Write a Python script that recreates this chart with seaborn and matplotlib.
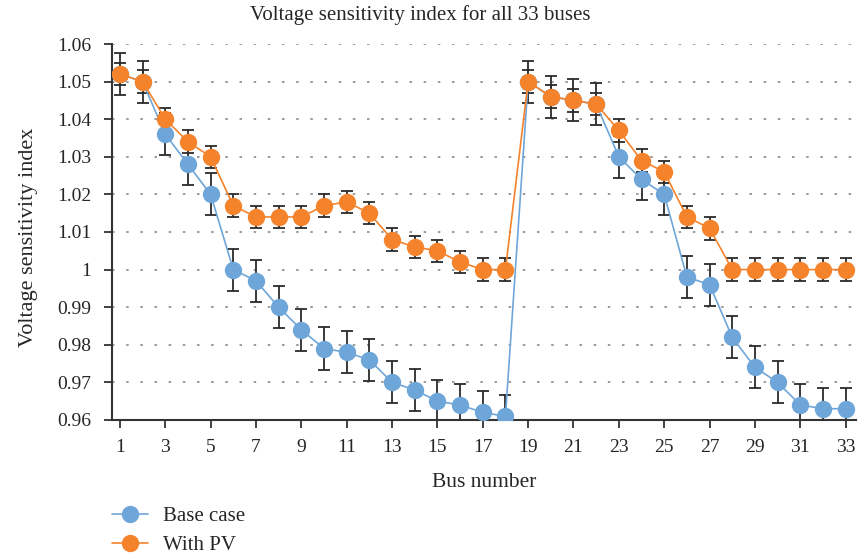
import numpy as np
import pandas as pd
import seaborn as sns
import matplotlib.pyplot as plt
from matplotlib.lines import Line2D

buses = list(range(1, 34))
base_case = [1.052, 1.050, 1.036, 1.028, 1.020, 1.000, 0.997, 0.990, 0.984, 0.979,
             0.978, 0.976, 0.970, 0.968, 0.965, 0.964, 0.962, 0.961, 1.050, 1.046,
             1.045, 1.044, 1.030, 1.024, 1.020, 0.998, 0.996, 0.982, 0.974, 0.970,
             0.964, 0.963, 0.963]
with_pv = [1.052, 1.050, 1.040, 1.034, 1.030, 1.017, 1.014, 1.014, 1.014, 1.017,
           1.018, 1.015, 1.008, 1.006, 1.005, 1.002, 1.000, 1.000, 1.050, 1.046,
           1.045, 1.044, 1.037, 1.029, 1.026, 1.014, 1.011, 1.000, 1.000, 1.000,
           1.000, 1.000, 1.000]
base_err = 0.0056
pv_err = 0.003

blue = '#6fa6d9'
orange = '#f5832c'

sns.set_style('ticks')
plt.rcParams['font.family'] = ['Liberation Serif', 'DejaVu Serif']

df = pd.DataFrame({'bus': buses, 'Base case': base_case, 'With PV': with_pv})

fig = plt.figure(figsize=(8.58, 5.57), dpi=100)
ax = fig.add_axes([0.1305, 0.246, 0.867, 0.675])

# error bars sit under the markers
ax.errorbar(df['bus'], df['Base case'], yerr=base_err, fmt='none', ecolor='#2b2b2b',
            elinewidth=1.3, capsize=4.5, capthick=1.3, zorder=2)
ax.errorbar(df['bus'], df['With PV'], yerr=pv_err, fmt='none', ecolor='#2b2b2b',
            elinewidth=1.3, capsize=4.5, capthick=1.3, zorder=2)

sns.lineplot(data=df, x='bus', y='Base case', ax=ax, color=blue, marker='o',
             markersize=12.5, markeredgewidth=0, linewidth=1.2, zorder=3)
sns.lineplot(data=df, x='bus', y='With PV', ax=ax, color=orange, marker='o',
             markersize=12.5, markeredgewidth=0, linewidth=1.2, zorder=4)

ax.set_xlim(0.65, 33.45)
ax.set_ylim(0.96, 1.06)
ax.set_xticks(range(1, 34, 2))
yt = np.round(np.arange(0.96, 1.0601, 0.01), 2)
ax.set_yticks(yt)
ax.set_yticklabels(['%g' % v for v in yt])
ax.tick_params(labelsize=14, length=6, width=1.3, color='#333333')
ax.tick_params(axis='y', pad=9)
ax.tick_params(axis='x', pad=8)

ax.yaxis.grid(True, linestyle=(0, (1.5, 7)), linewidth=1.2, color='#8a8a8a')
ax.set_axisbelow(True)

sns.despine(ax=ax)
for s in ['left', 'bottom']:
    ax.spines[s].set_linewidth(1.5)
    ax.spines[s].set_color('#333333')

fig.text(0.4895, 1 - 15 / 557, 'Voltage sensitivity index for all 33 buses',
         fontsize=15, ha='center', va='center')
ax.set_xlabel('Bus number', fontsize=15.5, labelpad=12)
ax.set_ylabel('Voltage sensitivity index', fontsize=16)
ax.yaxis.set_label_coords(-0.1, 0.485)

handles = [Line2D([], [], color=blue, marker='o', markersize=12.5, markeredgewidth=0, lw=1.2),
           Line2D([], [], color=orange, marker='o', markersize=12.5, markeredgewidth=0, lw=1.2)]
fig.legend(handles, ['Base case', 'With PV'], loc='upper left',
           bbox_to_anchor=(0.121, 0.105), frameon=False, fontsize=15,
           handlelength=1.7, handletextpad=0.75, labelspacing=0.45, borderaxespad=0)

fig.savefig('out.png', dpi=100)
